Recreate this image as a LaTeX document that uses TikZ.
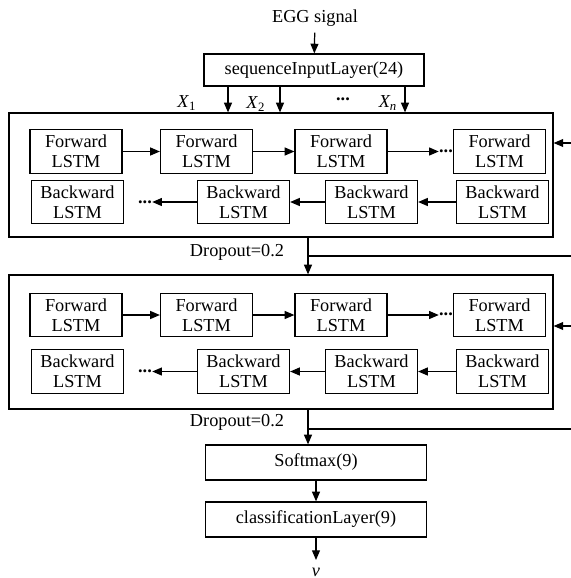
\documentclass[tikz,border=0pt]{standalone}
\usepackage{fontspec}
\setmainfont{Liberation Serif}
\usetikzlibrary{arrows.meta}

\begin{document}
\begin{tikzpicture}[x=0.02cm,y=-0.02cm,
    every node/.style={font=\fontsize{10.4}{11.6}\selectfont},
    cell/.style={draw,line width=.7pt,minimum width=1.84cm,minimum height=.87cm,inner sep=0pt,align=center},
    bloc/.style={draw,line width=.7pt,minimum width=4.42cm,minimum height=.7cm,inner sep=0pt},
    layer/.style={draw,line width=.7pt,minimum width=10.88cm,inner sep=0pt},
    fleche/.style={line width=.7pt,-{Triangle[length=5.5pt,width=4.5pt]}},
    ligne/.style={line width=.7pt}]
    \useasboundingbox (0,0) rectangle (571,578);
    % entree
    \node (egg) at (315,18) {EGG signal};
    \node[bloc,minimum width=4.4cm,minimum height=.64cm] (seq) at (314,70) {sequenceInputLayer(24)};
    \draw[fleche] (egg) -- (seq);
    % couche 1
    \node[layer,minimum height=2.48cm] (lay1) at (281,175) {};
    \draw[fleche] (228,0 |- seq.south) -- (228,0 |- lay1.north);
    \draw[fleche] (280,0 |- seq.south) -- (280,0 |- lay1.north);
    \draw[fleche] (405,0 |- seq.south) -- (405,0 |- lay1.north);
    \node (x1) at (187,103) {\textit{X}\textsubscript{1}};
    \node (x2) at (256,104) {\textit{X}\textsubscript{2}};
    \node (xd) at (343,99) {\textbf{...}};
    \node (xn) at (388,103) {\textit{X\textsubscript{n}}};
    \node[cell] (f11) at (76,151.5) {Forward\\LSTM};
    \node[cell] (f12) at (206.5,151.5) {Forward\\LSTM};
    \node[cell] (f13) at (341,151.5) {Forward\\LSTM};
    \node[cell] (f14) at (499.5,151.5) {Forward\\LSTM};
    \node[cell] (b11) at (77.5,202) {Backward\\LSTM};
    \node[cell] (b12) at (243.5,202) {Backward\\LSTM};
    \node[cell] (b13) at (371.5,202) {Backward\\LSTM};
    \node[cell] (b14) at (502.5,202) {Backward\\LSTM};
    \node[inner sep=0pt] (fd1) at (446,151) {\textbf{...}};
    \node[inner sep=0pt] (bd1) at (145,202) {\textbf{...}};
    \draw[fleche] (f11) -- (f12);
    \draw[fleche] (f12) -- (f13);
    \draw[fleche] (f13) -- (fd1.west |- f13);
    \draw[fleche] (b14) -- (b13);
    \draw[fleche] (b13) -- (b12);
    \draw[fleche] (b12) -- (bd1.east |- b12);
    \coordinate (in1) at (571,143);
    \draw[fleche] (in1) -- (in1 -| lay1.east);
    % dropout 1
    \node[layer,minimum height=2.68cm] (lay2) at (281,342) {};
    \draw[fleche] (308,0 |- lay1.south) -- (308,0 |- lay2.north);
    \coordinate (d1) at (308,256);
    \draw[ligne] (d1) -- (571,0 |- d1);
    \node (drop1) at (237,252) {Dropout=0.2};
    % couche 2
    \node[cell] (f21) at (76,315) {Forward\\LSTM};
    \node[cell] (f22) at (206.5,315) {Forward\\LSTM};
    \node[cell] (f23) at (341,315) {Forward\\LSTM};
    \node[cell] (f24) at (499.5,315) {Forward\\LSTM};
    \node[cell] (b21) at (77.5,371.5) {Backward\\LSTM};
    \node[cell] (b22) at (243.5,371.5) {Backward\\LSTM};
    \node[cell] (b23) at (371.5,371.5) {Backward\\LSTM};
    \node[cell] (b24) at (502.5,371.5) {Backward\\LSTM};
    \node[inner sep=0pt] (fd2) at (446,314.5) {\textbf{...}};
    \node[inner sep=0pt] (bd2) at (145,371.5) {\textbf{...}};
    \draw[fleche] (f21) -- (f22);
    \draw[fleche] (f22) -- (f23);
    \draw[fleche] (f23) -- (fd2.west |- f23);
    \draw[fleche] (b24) -- (b23);
    \draw[fleche] (b23) -- (b22);
    \draw[fleche] (b22) -- (bd2.east |- b22);
    \coordinate (in2) at (571,326);
    \draw[fleche] (in2) -- (in2 -| lay2.east);
    % sortie
    \node[bloc] (soft) at (316,462.5) {Softmax(9)};
    \node[bloc] (cls) at (316,519.5) {classificationLayer(9)};
    \draw[fleche] (308,0 |- lay2.south) -- (308,0 |- soft.north);
    \coordinate (d2) at (308,429);
    \draw[ligne] (d2) -- (571,0 |- d2);
    \node (drop2) at (237,422) {Dropout=0.2};
    \draw[fleche] (soft) -- (cls);
    \coordinate (out) at (316,560);
    \draw[fleche] (cls) -- (out);
    \node[inner sep=0pt,anchor=base] (v) at (316,576) {\textit{v}};
\end{tikzpicture}
\end{document}
